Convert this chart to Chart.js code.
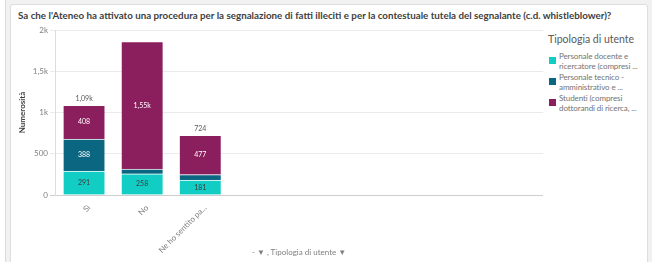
<!DOCTYPE html>
<html>
<head>
<meta charset="utf-8">
<script src="https://cdn.jsdelivr.net/npm/chart.js@4.4.1/dist/chart.umd.min.js"></script>
<style>
  body { margin: 0; width: 652px; height: 262px; overflow: hidden; background: #f1f1f1; font-family: Lato, sans-serif; position: relative; }
  #strip { position: absolute; left: 0; top: 0; width: 5px; height: 262px; background: #fff; border-right: 1px solid #dadada; }
  #card { position: absolute; left: 10px; top: 4px; width: 636px; height: 270px; background: #fff; border: 1px solid #dedede; border-radius: 3px; }
  #title { position: absolute; left: 18px; top: 9px; font-weight: bold; font-size: 13px; color: #404040; white-space: nowrap; }
  #wrap { position: absolute; left: 0; top: 0; width: 546px; height: 262px; }
  #legend { position: absolute; left: 548px; top: 33px; width: 97px; overflow: hidden; }
  #legend .lt { font-size: 10.5px; color: #595959; margin-bottom: 6px; }
  #legend .item { position: relative; padding-left: 11px; font-size: 8px; letter-spacing: -0.1px; line-height: 10px; color: #737373; height: 21px; white-space: pre; }
  #legend .sw { position: absolute; left: 1px; top: 6px; width: 7px; height: 7px; }
  #footer { position: absolute; left: 252px; top: 247px; font-size: 8px; color: #808080; white-space: nowrap; }
</style>
</head>
<body>
<div id="strip"></div>
<div id="card"></div>
<div id="title">Sa che l'Ateneo ha attivato una procedura per la segnalazione di fatti illeciti e per la contestuale tutela del segnalante (c.d. whistleblower)?</div>
<div id="wrap"><canvas id="myChart"></canvas></div>
<div id="legend"></div>
<div id="footer">- &#9660; , Tipologia di utente &#9660;</div>
<script>
const categories = ['Sì', 'No', 'Ne ho sentito pa...'];
const seriesNames = [
    'Personale docente e\nricercatore (compresi ...',
    'Personale tecnico -\namministrativo e ...',
    'Studenti (compresi\ndottorandi di ricerca, ...'
];
const docenti = [291, 258, 181];
const tecnici = [388, 55, 66];
const studenti = [408, 1548, 477];
const yTicks = [0, 500, 1000, 1500, 2000];

const colors = ['#12cdc4', '#0b6682', '#8b1e5c'];

function fmt(v) {
    if (v < 1000) return String(v);
    return (v / 1000).toFixed(2).replace(/\.?0+$/, '').replace('.', ',') + 'k';
}

// fit the title to the width it has in the original
const title = document.getElementById('title');
title.style.fontSize = (13 * 594 / title.getBoundingClientRect().width) + 'px';

// legend
const legend = document.getElementById('legend');
legend.innerHTML = '<div class="lt">Tipologia di utente</div>' + seriesNames.map((n, i) =>
    '<div class="item"><span class="sw" style="background:' + colors[i] + '"></span>' + n + '</div>').join('');

// value labels inside the bars and totals above
const barLabels = {
    id: 'barLabels',
    afterDatasetsDraw(chart) {
        const ctx = chart.ctx;
        ctx.save();
        ctx.font = '7px Lato';
        ctx.textAlign = 'center';
        ctx.textBaseline = 'middle';
        chart.data.datasets.forEach((ds, di) => {
            const meta = chart.getDatasetMeta(di);
            meta.data.forEach((bar, i) => {
                if (bar.base - bar.y < 12) return;
                ctx.fillStyle = di === 0 ? '#3c3c3c' : '#ffffff';
                ctx.fillText(fmt(ds.data[i].y), bar.x, (bar.y + bar.base) / 2);
            });
        });
        const last = chart.getDatasetMeta(chart.data.datasets.length - 1);
        categories.forEach((c, i) => {
            const bar = last.data[i];
            if (bar.y - 16 < chart.chartArea.top) return;
            const total = docenti[i] + tecnici[i] + studenti[i];
            ctx.fillStyle = '#595959';
            ctx.fillText(fmt(total), bar.x, bar.y - 7);
        });
        ctx.restore();
    }
};

const series = [docenti, tecnici, studenti];
const ctx = document.getElementById('myChart').getContext('2d');
const chart = new Chart(ctx, {
    type: 'bar',
    data: {
        datasets: series.map((s, k) => ({
            label: seriesNames[k],
            data: s.map((v, i) => ({ x: i, y: v })),
            backgroundColor: colors[k],
            borderColor: 'rgba(255,255,255,0.5)',
            borderWidth: { top: 1 },
            borderSkipped: false,
            stack: 'all',
            barThickness: 41
        }))
    },
    options: {
        responsive: true,
        maintainAspectRatio: false,
        animation: false,
        layout: { padding: { top: 30, right: 3, left: 0, bottom: 0 } },
        plugins: { legend: { display: false }, tooltip: { enabled: false } },
        scales: {
            x: {
                type: 'linear',
                offset: false,
                min: -0.5,
                max: 7.9,
                afterBuildTicks: scale => { scale.ticks = categories.map((c, i) => ({ value: i })); },
                afterFit: scale => { scale.height = 67; },
                grid: { display: false, offset: false },
                border: { display: false },
                ticks: {
                    autoSkip: false,
                    minRotation: 45,
                    maxRotation: 45,
                    padding: 0,
                    labelOffset: 5,
                    color: '#7f7f7f',
                    font: { family: 'Lato', size: 8 },
                    callback: v => categories[v]
                }
            },
            y: {
                stacked: true,
                min: 0,
                max: 2000,
                afterBuildTicks: scale => { scale.ticks = yTicks.map(v => ({ value: v })); },
                afterFit: scale => { scale.width = 55; },
                grid: {
                    color: c => c.tick && c.tick.value === 0 ? '#cfcfcf' : '#ebebeb',
                    tickLength: 5
                },
                border: { color: '#dcdcdc' },
                ticks: {
                    padding: 2,
                    color: '#7f7f7f',
                    font: { family: 'Lato', size: 8 },
                    callback: v => fmt(v)
                },
                title: {
                    display: true,
                    text: 'Numerosità',
                    color: '#404040',
                    font: { family: 'Lato', size: 8, weight: 'bold' },
                    padding: { top: 18 }
                }
            }
        }
    },
    plugins: [barLabels]
});
</script>
</body>
</html>
